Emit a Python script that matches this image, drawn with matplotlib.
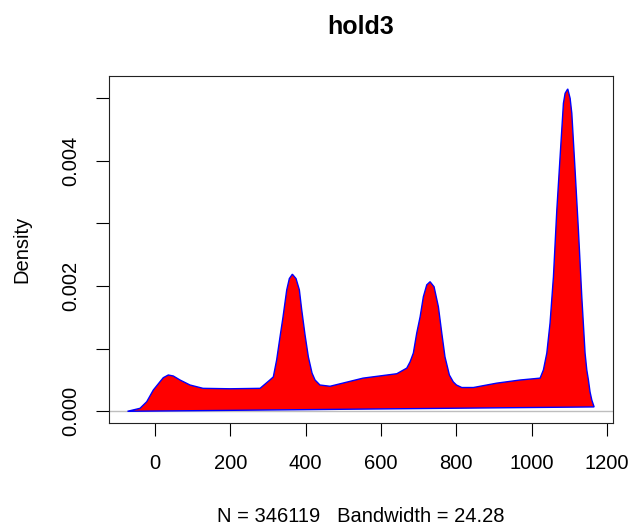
import matplotlib
matplotlib.use("Agg")
import matplotlib.pyplot as plt
import numpy as np

plt.rcParams['font.family'] = ['Liberation Sans', 'DejaVu Sans']

# density curve (x = value, y = density)
dens_x = [-73, -39.8, -22, -4.5, 13.3, 22, 35.3, 48.6, 66.4, 93, 127.5, 199, 279,
          305, 314.2, 323, 332, 340, 349.8, 356.7, 364.7, 374.5, 383.3, 389.6,
          398.4, 407.2, 417, 425, 438, 464.8, 552.5, 642, 668.5, 677.3, 686, 695,
          704, 712.6, 721.6, 730.4, 741, 752.5, 761.5, 770, 781.7, 792, 800.5,
          814.6, 845.4, 907.6, 969.5, 1022.6, 1031.3, 1040.4, 1049, 1058, 1067,
          1075.7, 1084.5, 1089, 1096, 1102.3, 1106.8, 1115.5, 1124.3, 1133.3,
          1142, 1146.6, 1150.9, 1155.2, 1159.9, 1166]
dens_y = [0.0, 0.000048, 0.000153, 0.00034, 0.000473, 0.000537, 0.00058, 0.000564,
          0.0005, 0.00042, 0.000367, 0.00036, 0.000367, 0.0005, 0.00055, 0.00082,
          0.00119, 0.00151, 0.00194, 0.00212, 0.00219, 0.00212, 0.00194, 0.00162,
          0.00122, 0.00087, 0.00061, 0.0005, 0.00042, 0.0004, 0.00053, 0.0006,
          0.00069, 0.00079, 0.00093, 0.00125, 0.00151, 0.00183, 0.00202, 0.00207,
          0.00199, 0.00167, 0.00125, 0.00087, 0.00058, 0.00047, 0.00042, 0.00038,
          0.00038, 0.00045, 0.0005, 0.00053, 0.00066, 0.00093, 0.00141, 0.00215,
          0.00322, 0.00407, 0.00492, 0.00508, 0.00515, 0.005, 0.00476, 0.00385,
          0.0029, 0.00183, 0.00093, 0.00066, 0.0005, 0.00031, 0.00018, 0.00007]

x_ticks = [0, 200, 400, 600, 800, 1000, 1200]
y_ticks = [0.000, 0.001, 0.002, 0.003, 0.004, 0.005]
y_labels = ["0.000", "", "0.002", "", "0.004", ""]

fig = plt.figure(figsize=(6.33, 5.26), dpi=100)
ax = fig.add_axes([0.1717, 0.1952, 0.7972, 0.6609])

# zero line, then the filled density polygon
ax.axhline(0, color="#bebebe", lw=1.0, zorder=1)
ax.fill(dens_x, dens_y, facecolor="red", edgecolor="blue", lw=1.0, zorder=2)

ax.set_xlim(-123, 1217)
ax.set_ylim(-0.000192, 0.005361)

ax.set_xticks(x_ticks)
ax.set_xticklabels([str(v) for v in x_ticks])
ax.set_yticks(y_ticks)
ax.set_yticklabels(y_labels, rotation=90, va="center")

ax.tick_params(axis="both", length=9.2, width=0.8, labelsize=14.5, color="black")
ax.tick_params(axis="x", pad=13)
ax.tick_params(axis="y", pad=11)
for s in ax.spines.values():
    s.set_linewidth(0.8)
    s.set_color("#222222")

ax.set_title("hold3", fontsize=18, fontweight="bold", pad=30)
ax.set_xlabel("N = 346119   Bandwidth = 24.28", fontsize=14.5, va="baseline")
ax.xaxis.set_label_coords(0.5, -0.2826)
ax.set_ylabel("Density", fontsize=14.5, va="center")
ax.yaxis.set_label_coords(-0.1724, 0.5)

fig.savefig("out.png", dpi=100)
